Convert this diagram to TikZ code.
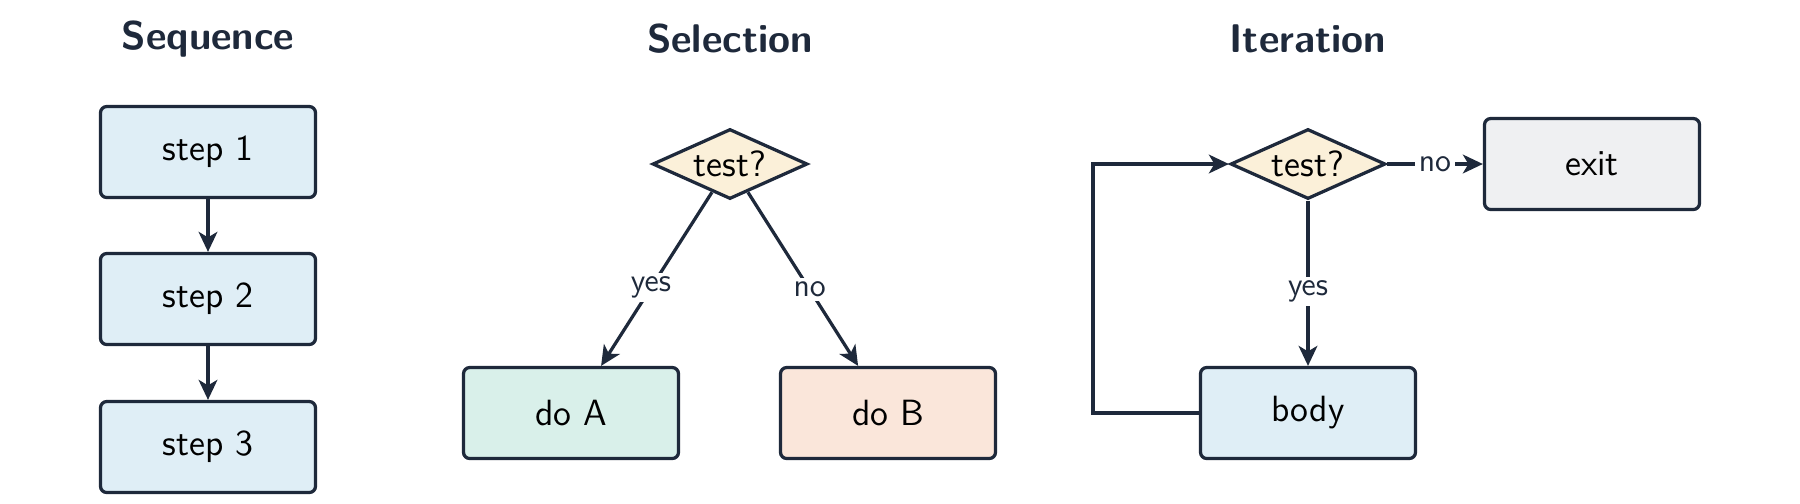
\documentclass[tikz,border=0pt]{standalone}
\usepackage{tikz}
\usetikzlibrary{arrows.meta, shapes.geometric}

\definecolor{ink}{HTML}{1E293B}
\definecolor{stepblue}{HTML}{DFEEF6}
\definecolor{testcream}{HTML}{FBF0D9}
\definecolor{amint}{HTML}{D9F0EA}
\definecolor{bpeach}{HTML}{FAE6DA}
\definecolor{exitgray}{HTML}{EFF0F2}

\begin{document}
\begin{tikzpicture}[x=0.4pt, y=-0.4pt,
			>={Stealth[length=8pt, width=7.5pt, inset=2.2pt]}, %Pfeilspitzen
			box/.style={draw=ink, line width=1.3pt, rounded corners=2.5pt, minimum width=86pt, minimum height=36.4pt, font=\fontsize{14.6}{17}\sffamily},
			test/.style={draw=ink, line width=1.3pt, diamond, aspect=2.2, inner sep=0pt, minimum width=62pt, minimum height=28pt, fill=testcream, font=\fontsize{14.6}{17}\sffamily},
			title/.style={font=\fontsize{16}{19}\sffamily\bfseries, text=ink},
			lbl/.style={fill=white, inner sep=1.5pt, font=\fontsize{13}{15}\sffamily, text=ink},
			flow/.style={->, draw=ink, line width=1.3pt}]
			\useasboundingbox (0,0) rectangle (1800,503);
			% Titel
			\node[title] (tseq) at (208,39) {Sequence};
			\node[title] (tsel) at (730,39) {Selection};
			\node[title] (tit) at (1308,39) {Iteration};
			% Sequenz
			\node[box, fill=stepblue] (s1) at (208,152) {step 1};
			\node[box, fill=stepblue] (s2) at (208,299) {step 2};
			\node[box, fill=stepblue] (s3) at (208,447) {step 3};
			\draw[flow] (s1) -- (s2);
			\draw[flow] (s2) -- (s3);
			% Auswahl
			\node[test] (seltest) at (730,164) {test?};
			\node[box, fill=amint] (doa) at (571,413) {do A};
			\node[box, fill=bpeach] (dob) at (888,413) {do B};
			\draw[flow] (seltest) -- node[lbl, pos=0.55] (selyes) {yes} (doa);
			\draw[flow] (seltest) -- node[lbl, pos=0.56] (selno) {no} (dob);
			% Wiederholung
			\node[test] (ittest) at (1308,164) {test?};
			\node[box, fill=exitgray] (exit) at (1592,164) {exit};
			\node[box, fill=stepblue] (body) at (1308,413) {body};
			\coordinate (back) at (1093,413);
			\draw[flow] (ittest) -- node[lbl, pos=0.55] (ityes) {yes} (body);
			\draw[flow] (ittest) -- node[lbl] (itno) {no} (exit);
			\draw[flow] (body.west) -- (back) |- (ittest.west);
		\end{tikzpicture}
\end{document}
